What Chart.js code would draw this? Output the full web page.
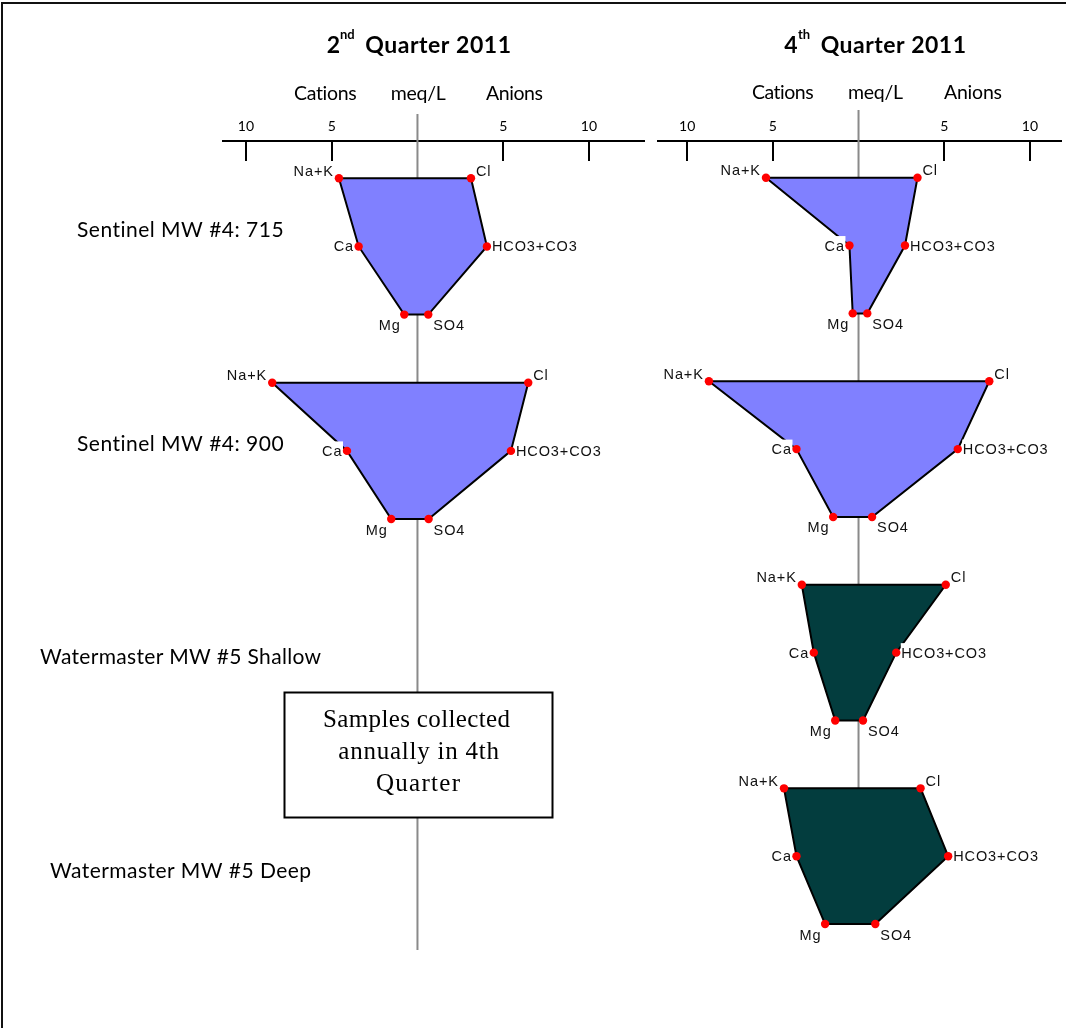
<!DOCTYPE html>
<html>
<head>
<meta charset="utf-8">
<title>Stiff diagrams 2011</title>
<script src="https://cdn.jsdelivr.net/npm/chart.js@4.4.1/dist/chart.umd.min.js"></script>
<style>
  html, body { margin: 0; padding: 0; background: #ffffff; }
  #page { position: relative; width: 1066px; height: 1028px; overflow: hidden; background: #ffffff; }
  #frame { position: absolute; left: 1px; top: 2px; width: 1080px; height: 1040px;
           border-top: 2px solid #111; border-left: 2px solid #111; box-sizing: border-box; }
  canvas { position: absolute; top: 0; }
  #leftPanel { left: 0; }
  #rightPanel { left: 650px; }
</style>
</head>
<body>
<div id="page">
  <div id="frame"></div>
  <canvas id="leftPanel" width="650" height="1028"></canvas>
  <canvas id="rightPanel" width="416" height="1028"></canvas>
</div>
<script>
// ---- Ion names, wells and axis ticks ----
const cationNames = ['Na+K', 'Ca', 'Mg'];
const anionNames = ['Cl', 'HCO3+CO3', 'SO4'];
const wellNames = ['Sentinel MW #4: 715', 'Sentinel MW #4: 900', 'Watermaster MW #5 Shallow', 'Watermaster MW #5 Deep'];
const axisTicks = [-10, -5, 5, 10];
const headerLabels = ['Cations', 'meq/L', 'Anions'];
const q2Title = ['2', 'nd', 'Quarter 2011'];
const q4Title = ['4', 'th', 'Quarter 2011'];
const noteLines = ['Samples collected', 'annually in 4th', 'Quarter'];

// ---- Concentrations, meq/L (cations: Na+K, Ca, Mg; anions: Cl, HCO3+CO3, SO4) ----
// 2nd quarter 2011
const q2Sentinel715Cations = [4.58, 3.43, 0.77];
const q2Sentinel715Anions  = [3.12, 4.05, 0.63];
const q2Sentinel900Cations = [8.47, 4.11, 1.53];
const q2Sentinel900Anions  = [6.46, 5.45, 0.65];
// 4th quarter 2011
const q4Sentinel715Cations = [5.40, 0.53, 0.34];
const q4Sentinel715Anions  = [3.44, 2.71, 0.51];
const q4Sentinel900Cations = [8.73, 3.62, 1.48];
const q4Sentinel900Anions  = [7.63, 5.79, 0.79];
const q4ShallowCations     = [3.31, 2.61, 1.36];
const q4ShallowAnions      = [5.09, 2.20, 0.26];
const q4DeepCations        = [4.35, 3.62, 1.95];
const q4DeepAnions         = [3.62, 5.23, 0.98];

const SENTINEL_FILL = '#8080ff';
const WATERMASTER_FILL = '#033d3e';

// Stiff polygon: Na+K / Cl on row 0, Ca / HCO3 on row 1, Mg / SO4 on row 2 of each well band
function stiffPoints(cat, an, well) {
  const r = well * 3;
  return [
    { x: -cat[0], y: r },
    { x: an[0], y: r },
    { x: an[1], y: r + 1 },
    { x: an[2], y: r + 2 },
    { x: -cat[2], y: r + 2 },
    { x: -cat[1], y: r + 1 },
    { x: -cat[0], y: r }
  ];
}
const vertexLabels = [cationNames[0], anionNames[0], anionNames[1], anionNames[2], cationNames[2], cationNames[1]];
const vertexPlaces = ['tl', 'tr', 'r', 'br', 'bl', 'l'];

function wellDatasets(cat, an, well, fillColor) {
  const pts = stiffPoints(cat, an, well);
  return [
    {
      data: pts, showLine: true, borderColor: '#000000', borderWidth: 2,
      pointRadius: 0, fill: false, tension: 0, order: 2,
      polyFill: fillColor, labelled: true
    },
    {
      data: pts.slice(0, 6), showLine: false, pointRadius: 4.2,
      pointBackgroundColor: '#ff0000', pointBorderWidth: 0, order: 1
    }
  ];
}

function drawFitted(ctx, text, left, baseline, width, font, color) {
  ctx.save();
  ctx.font = font;
  ctx.letterSpacing = '0px';
  const w0 = ctx.measureText(text).width;
  const ls = text.length > 1 ? (width - w0) / (text.length - 1) : 0;
  ctx.letterSpacing = ls + 'px';
  ctx.fillStyle = color || '#000000';
  ctx.textAlign = 'left';
  ctx.textBaseline = 'alphabetic';
  ctx.fillText(text, left, baseline);
  ctx.restore();
}

const LABEL_FONT = '14.5px "Liberation Sans"';
const LABEL_SPACING = 0.9;
function drawVertexLabel(ctx, text, place, px, py) {
  ctx.save();
  ctx.font = LABEL_FONT;
  ctx.letterSpacing = LABEL_SPACING + 'px';
  const w = ctx.measureText(text).width - LABEL_SPACING;
  let left, base;
  switch (place) {
    case 'tl': left = px - 6 - w; base = py - 2.5; break;
    case 'tr': left = px + 5; base = py - 2.5; break;
    case 'r':  left = px + 5; base = py + 5; break;
    case 'l':  left = px - 5.5 - w; base = py + 5; break;
    case 'bl': left = px - 4.5 - w; base = py + 15.5; break;
    case 'br': left = px + 5; base = py + 15.5; break;
  }
  ctx.fillStyle = '#ffffff';
  ctx.fillRect(left - 0.5, base - 14.5, w + 2, 18.5);
  ctx.fillStyle = '#111111';
  ctx.textAlign = 'left';
  ctx.textBaseline = 'alphabetic';
  ctx.fillText(text, left, base);
  ctx.restore();
}

// Per-panel decorations: titles, headings, tick marks, centre line, well names, note box
function decorPlugin(panel) {
  return {
    id: 'stiffDecor',
    beforeDatasetsDraw(chart) {
      const ctx = chart.ctx;
      const xs = chart.scales.x, ys = chart.scales.y;
      const ox = panel.offsetX;
      const top = chart.chartArea.top;

      // tick marks hanging below the axis line
      ctx.save();
      ctx.strokeStyle = '#000000';
      ctx.lineWidth = 2;
      axisTicks.forEach(v => {
        const x = Math.round(xs.getPixelForValue(v));
        ctx.beginPath();
        ctx.moveTo(x, top);
        ctx.lineTo(x, top + 20);
        ctx.stroke();
      });
      // centre line (zero meq/L)
      const cx = xs.getPixelForValue(0);
      const yEnd = panel.centerBottomPx !== undefined ? panel.centerBottomPx : ys.getPixelForValue(panel.centerBottomValue);
      ctx.strokeStyle = '#8a8a8a';
      ctx.lineWidth = 2;
      ctx.beginPath();
      ctx.moveTo(cx, panel.centerTopPx);
      ctx.lineTo(cx, yEnd);
      ctx.stroke();
      ctx.restore();

      // title with ordinal superscript
      const t = panel.title;
      ctx.save();
      ctx.fillStyle = '#000000';
      ctx.font = 'bold 23px Lato';
      ctx.textBaseline = 'alphabetic';
      ctx.fillText(t.parts[0], t.digitX - ox, 52.7);
      ctx.font = 'bold 13px Lato';
      ctx.fillText(t.parts[1], t.supX - ox, 38.8);
      ctx.restore();
      drawFitted(ctx, t.parts[2], t.restL - ox, 52.7, t.restR - t.restL, 'bold 23px Lato');

      // column headings
      panel.headers.forEach((h, i) => {
        drawFitted(ctx, headerLabels[i], h[0] - ox, panel.headerBase, h[1] - h[0], '19.5px Lato');
      });

      // well names
      (panel.rowLabels || []).forEach((r, i) => {
        drawFitted(ctx, wellNames[i], r[0] - ox, r[2], r[1] - r[0], '21px Lato');
      });
    },
    beforeDatasetDraw(chart, args) {
      const ds = chart.data.datasets[args.index];
      if (!ds.polyFill) return;
      const pts = args.meta.data;
      const ctx = chart.ctx;
      ctx.save();
      ctx.beginPath();
      pts.forEach((p, i) => { if (i === 0) ctx.moveTo(p.x, p.y); else ctx.lineTo(p.x, p.y); });
      ctx.closePath();
      ctx.fillStyle = ds.polyFill;
      ctx.fill();
      ctx.restore();
    },
    afterDatasetDraw(chart, args) {
      const ds = chart.data.datasets[args.index];
      if (!ds.labelled) return;
      const pts = args.meta.data;
      for (let i = 0; i < 6; i++) {
        drawVertexLabel(chart.ctx, vertexLabels[i], vertexPlaces[i], pts[i].x, pts[i].y);
      }
    },
    afterDatasetsDraw(chart) {
      if (!panel.note) return;
      const ctx = chart.ctx;
      const n = panel.note;
      ctx.save();
      ctx.fillStyle = '#ffffff';
      ctx.fillRect(n.x, n.y, n.w, n.h);
      ctx.strokeStyle = '#000000';
      ctx.lineWidth = 2;
      ctx.strokeRect(n.x, n.y, n.w, n.h);
      ctx.restore();
      n.lines.forEach((ln, i) => {
        drawFitted(ctx, noteLines[i], ln[0], ln[2], ln[1] - ln[0], '25px "Liberation Serif"');
      });
    }
  };
}

function makePanel(canvasId, datasets, scaleRange, padding, panel) {
  return new Chart(document.getElementById(canvasId), {
    type: 'scatter',
    data: { datasets },
    options: {
      responsive: false,
      maintainAspectRatio: false,
      devicePixelRatio: 1,
      animation: false,
      events: [],
      layout: { padding },
      plugins: { legend: { display: false }, tooltip: { enabled: false }, title: { display: false } },
      scales: {
        x: {
          type: 'linear',
          position: 'top',
          min: scaleRange.xMin,
          max: scaleRange.xMax,
          afterBuildTicks: s => { s.ticks = axisTicks.map(v => ({ value: v })); },
          afterFit: s => { s.height = 40; },
          ticks: {
            callback: v => String(Math.abs(v)),
            font: { family: 'Lato', size: 14 },
            color: '#000000',
            padding: 6,
            maxRotation: 0,
            autoSkip: false
          },
          grid: { display: false, drawTicks: false },
          border: { display: true, color: '#000000', width: 2 }
        },
        y: {
          type: 'linear',
          display: false,
          reverse: true,
          min: scaleRange.yMin,
          max: scaleRange.yMax
        }
      }
    },
    plugins: [decorPlugin(panel)]
  });
}

// 2nd quarter 2011 (only the Sentinel wells were sampled)
makePanel('leftPanel',
  [
    ...wellDatasets(q2Sentinel715Cations, q2Sentinel715Anions, 0, SENTINEL_FILL),
    ...wellDatasets(q2Sentinel900Cations, q2Sentinel900Anions, 1, SENTINEL_FILL)
  ],
  { xMin: -11.34, xMax: 13.21, yMin: -0.547, yMax: 11.47 },
  { left: 223, right: 6, top: 101, bottom: 68 },
  {
    offsetX: 0,
    title: { parts: q2Title, digitX: 326.7, supX: 340, restL: 365.3, restR: 511 },
    headers: [[294, 357], [390.7, 445.7], [486, 543]],
    headerBase: 100,
    rowLabels: [[77, 284, 237.3], [77, 284, 450.7], [40, 321, 664], [50, 311, 877.5]],
    centerTopPx: 114,
    centerBottomPx: 950,
    note: {
      x: 284.5, y: 692.5, w: 268, h: 125,
      lines: [[323, 510, 726.7], [338.3, 499, 759.3], [376, 460, 790.7]]
    }
  }
);

// 4th quarter 2011
makePanel('rightPanel',
  [
    ...wellDatasets(q4Sentinel715Cations, q4Sentinel715Anions, 0, SENTINEL_FILL),
    ...wellDatasets(q4Sentinel900Cations, q4Sentinel900Anions, 1, SENTINEL_FILL),
    ...wellDatasets(q4ShallowCations, q4ShallowAnions, 2, WATERMASTER_FILL),
    ...wellDatasets(q4DeepCations, q4DeepAnions, 3, WATERMASTER_FILL)
  ],
  { xMin: -11.70, xMax: 11.86, yMin: -0.541, yMax: 11.53 },
  { left: 8, right: 3, top: 101, bottom: 68 },
  {
    offsetX: 650,
    title: { parts: q4Title, digitX: 784.3, supX: 798, restL: 820.7, restR: 966 },
    headers: [[752, 814], [848, 903], [944, 1002]],
    headerBase: 99.3,
    centerTopPx: 110,
    centerBottomValue: 9
  }
);
</script>
</body>
</html>
